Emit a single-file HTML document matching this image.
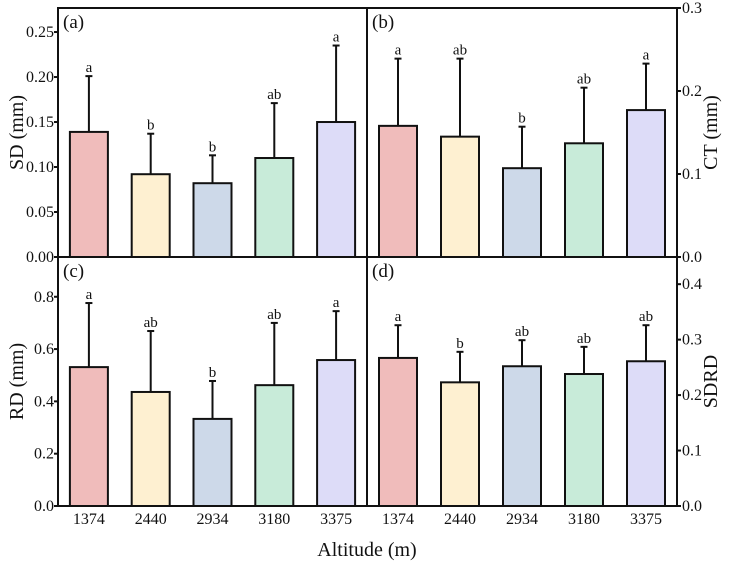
<!DOCTYPE html>
<html><head><meta charset="utf-8"><style>
html,body{margin:0;padding:0;background:#fff;}
svg{display:block;}
svg text{font-family:"Liberation Serif","Times New Roman",serif;}
</style></head><body>
<svg id="chart" width="733" height="566" viewBox="0 0 733 566" font-family="Liberation Serif, serif" xmlns="http://www.w3.org/2000/svg"></svg>
<script>
const categories = ["1374","2440","2934","3180","3375"];
const colors = ["#f0bcbb","#fef0d1","#cdd9e9","#c8ebd9","#dddcf8"];
const sdValues = [0.139,0.092,0.082,0.110,0.150];
const sdErrors = [0.062,0.045,0.031,0.061,0.085];
const sdLetters = ["a","b","b","ab","a"];
const sdTicks = ["0.00","0.05","0.10","0.15","0.20","0.25"];
const ctValues = [0.158,0.145,0.107,0.137,0.177];
const ctErrors = [0.081,0.094,0.050,0.067,0.056];
const ctLetters = ["a","ab","b","ab","a"];
const ctTicks = ["0.0","0.1","0.2","0.3"];
const rdValues = [0.531,0.436,0.333,0.462,0.558];
const rdErrors = [0.245,0.233,0.145,0.238,0.187];
const rdLetters = ["a","ab","b","ab","a"];
const rdTicks = ["0.0","0.2","0.4","0.6","0.8"];
const sdrdValues = [0.267,0.223,0.252,0.238,0.261];
const sdrdErrors = [0.059,0.055,0.047,0.049,0.065];
const sdrdLetters = ["a","b","ab","ab","ab"];
const sdrdTicks = ["0.0","0.1","0.2","0.3","0.4"];

const NS="http://www.w3.org/2000/svg";
const svg=document.getElementById('chart');
function mk(tag,attrs,parent){const e=document.createElementNS(NS,tag);for(const k in attrs)e.setAttribute(k,attrs[k]);(parent||svg).appendChild(e);return e;}
const FF="Liberation Serif, serif";

const panels=[
 {id:"sd",label:"(a)",title:"SD (mm)",x0:58,x1:367,y0:8,y1:257,max:0.2767,vals:sdValues,errs:sdErrors,letters:sdLetters,ticks:sdTicks,side:"left",xlabels:false},
 {id:"ct",label:"(b)",title:"CT (mm)",x0:367,x1:677,y0:8,y1:257,max:0.3,vals:ctValues,errs:ctErrors,letters:ctLetters,ticks:ctTicks,side:"right",xlabels:false},
 {id:"rd",label:"(c)",title:"RD (mm)",x0:58,x1:367,y0:257,y1:506,max:0.952,vals:rdValues,errs:rdErrors,letters:rdLetters,ticks:rdTicks,side:"left",xlabels:true},
 {id:"sdrd",label:"(d)",title:"SDRD",x0:367,x1:677,y0:257,y1:506,max:0.449,vals:sdrdValues,errs:sdrdErrors,letters:sdrdLetters,ticks:sdrdTicks,side:"right",xlabels:true}
];

panels.forEach(p=>{
 const g=mk('g',{});
 
 
 const band=(p.x1-p.x0)/categories.length;
 const xc=i=>p.x0+(i+0.5)*band;
 const y=v=>p.y1-v/p.max*(p.y1-p.y0);
 const bw=38;
 p.vals.forEach((v,i)=>{
  const top=y(v), et=y(v+p.errs[i]);
  const eb=mk('line',{x1:xc(i),x2:xc(i),y1:top,y2:et,stroke:'#111','stroke-width':2},g);
  
  
  mk('line',{x1:xc(i)-3.5,x2:xc(i)+3.5,y1:et,y2:et,stroke:'#111','stroke-width':2},g);
  const r=mk('rect',{x:xc(i)-bw/2,y:top,width:bw,height:p.y1-top,fill:colors[i],stroke:'#111','stroke-width':2},g);
  
  
  const t=mk('text',{x:xc(i),y:et-4,'text-anchor':'middle','font-size':15,'font-family':FF,fill:'#111'},g);
  t.textContent=p.letters[i];
  
  
  if(p.xlabels){
   const xl=mk('text',{x:xc(i),y:524,'text-anchor':'middle','font-size':16,'font-family':FF,fill:'#111'},g);
   xl.textContent=categories[i];
   
   
  }
 });
 const fr=mk('rect',{x:p.x0,y:p.y0,width:p.x1-p.x0,height:p.y1-p.y0,fill:'none',stroke:'#111','stroke-width':2},g);
 
 
 const step=parseFloat(p.ticks[1]);
 p.ticks.forEach((lbl,k)=>{
  const ty=y(k*step);
  if(p.side==='left'){
   mk('line',{x1:p.x0-4,x2:p.x0,y1:ty,y2:ty,stroke:'#111','stroke-width':2},g);
   const tt=mk('text',{x:p.x0-4,y:ty+5,'text-anchor':'end','font-size':16,'font-family':FF,fill:'#111'},g);
   tt.textContent=lbl;
   
   
  } else {
   mk('line',{x1:p.x1,x2:p.x1+4,y1:ty,y2:ty,stroke:'#111','stroke-width':2},g);
   const tt=mk('text',{x:p.x1+5,y:ty+5,'text-anchor':'start','font-size':16,'font-family':FF,fill:'#111'},g);
   tt.textContent=lbl;
   
   
  }
 });
 const lab=mk('text',{x:p.x0+5,y:p.y0+20,'font-size':19,'font-family':FF,fill:'#111'},g);
 lab.textContent=p.label;
 
 
 const cy=(p.y0+p.y1)/2;
 const tx=p.side==='left'?23:717;
 const at=mk('text',{x:tx,y:cy,'text-anchor':'middle','font-size':20,'font-family':FF,fill:'#111',transform:`rotate(-90 ${tx} ${cy})`},g);
 at.textContent=p.title;
 
 
});
const xt=mk('text',{x:367,y:556,'text-anchor':'middle','font-size':20,'font-family':FF,fill:'#111'});
xt.textContent="Altitude (m)";


</script>
</body></html>
